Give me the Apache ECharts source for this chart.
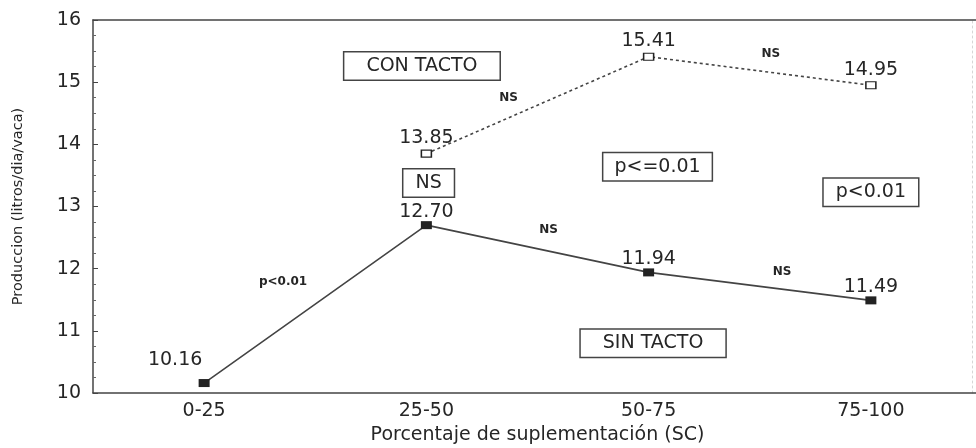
<!DOCTYPE html>
<html>
<head>
<meta charset="utf-8">
<script src="https://cdn.jsdelivr.net/npm/echarts@6/dist/echarts.min.js"></script>
<style>
  html, body { margin: 0; padding: 0; background: #fff; overflow: hidden; }
  #chart { width: 976px; height: 448px; }
</style>
</head>
<body>
<div id="chart"></div>
<script>
// Supplementation classes on the horizontal axis
const categories = ['0-25', '25-50', '50-75', '75-100'];
// Milk yield (litros/dia/vaca) per group
const sinTacto = [10.16, 12.70, 11.94, 11.49];
const conTacto = [null, 13.85, 15.41, 14.95];
// Framed notes: [text, x position in class units, y value]
const boxNotes = [
  ['CON TACTO', 0.98, 15.26],
  ['NS', 1.01, 13.38],
  ['p<=0.01', 2.04, 13.64],
  ['p<0.01', 3.0, 13.23],
  ['SIN TACTO', 2.02, 10.80]
];
// Small significance marks: [text, x position in class units, y value]
const smallNotes = [
  ['NS', 1.37, 14.75],
  ['NS', 2.55, 15.45],
  ['NS', 1.55, 12.62],
  ['NS', 2.60, 11.95],
  ['p<0.01', 0.355, 11.79]
];

const FONT = 'DejaVu Sans';
const INK = '#262626';
const LINE = '#444';
const boxPadX = [22, 12, 11, 12, 22];

const chart = echarts.init(document.getElementById('chart'), null, { renderer: 'canvas' });

const valueLabel = (dist, extra) => ({
  show: true,
  position: 'top',
  distance: dist,
  color: INK,
  fontFamily: FONT,
  fontSize: 19,
  formatter: p => (p.value == null ? '' : Number(p.value).toFixed(2)),
  ...(extra || {})
});

const sinData = sinTacto.map((v, i) => i === 0
  ? { value: v, label: { offset: [-29, -9] } }
  : v);

const option = {
  backgroundColor: '#fff',
  animation: false,
  textStyle: { fontFamily: FONT, color: INK },
  grid: { left: 93, top: 20, width: 889, height: 373, outerBoundsMode: 'none', containLabel: false },
  xAxis: [
    {
      type: 'category',
      data: categories,
      position: 'bottom',
      boundaryGap: true,
      name: 'Porcentaje de suplementación (SC)',
      nameLocation: 'middle',
      nameGap: 26,
      nameTextStyle: { fontFamily: FONT, fontSize: 19, color: INK },
      axisLine: { lineStyle: { color: LINE, width: 1.5 } },
      axisTick: { inside: true, alignWithLabel: true, length: 4, lineStyle: { color: LINE } },
      axisLabel: { margin: 9, fontFamily: FONT, fontSize: 19, color: INK },
      splitLine: { show: false }
    },
    {
      type: 'category',
      data: categories,
      position: 'top',
      boundaryGap: true,
      axisLine: { lineStyle: { color: LINE, width: 1.5 } },
      axisTick: { inside: true, alignWithLabel: true, length: 4, lineStyle: { color: LINE } },
      axisLabel: { show: false },
      splitLine: { show: false }
    },
    {
      type: 'value',
      min: -0.5,
      max: 3.5,
      show: false
    }
  ],
  yAxis: [
    {
      type: 'value',
      min: 10,
      max: 16,
      interval: 1,
      name: 'Produccion (litros/dia/vaca)',
      nameLocation: 'middle',
      nameGap: 67,
      nameTextStyle: { fontFamily: FONT, fontSize: 14.5, color: INK },
      axisLine: { show: true, onZero: false, lineStyle: { color: LINE, width: 1.5 } },
      axisTick: { show: true, inside: true, length: 5, lineStyle: { color: LINE } },
      minorTick: { show: true, splitNumber: 4, length: 3, lineStyle: { color: '#666' } },
      axisLabel: { margin: 12, fontFamily: FONT, fontSize: 19, color: INK },
      splitLine: { show: false }
    },
    {
      type: 'value',
      min: 10,
      max: 16,
      position: 'right',
      offset: -10,
      axisLine: { show: true, onZero: false, lineStyle: { color: '#d6d6d6', width: 1, type: [2, 3] } },
      axisTick: { show: false },
      axisLabel: { show: false },
      splitLine: { show: false }
    }
  ],
  series: [
    {
      name: 'SIN TACTO',
      type: 'line',
      xAxisIndex: 0,
      yAxisIndex: 0,
      data: sinData,
      symbol: 'rect',
      symbolSize: [11, 8],
      itemStyle: { color: '#222' },
      lineStyle: { color: LINE, width: 1.6 },
      label: valueLabel(0),
      z: 3
    },
    {
      name: 'CON TACTO',
      type: 'line',
      xAxisIndex: 0,
      yAxisIndex: 0,
      data: conTacto,
      connectNulls: false,
      symbol: 'rect',
      symbolSize: [10, 7],
      showSymbol: true,
      itemStyle: { color: '#fff', borderColor: '#222', borderWidth: 1.3 },
      lineStyle: { color: LINE, width: 1.6, type: [3, 3] },
      label: valueLabel(2),
      z: 3
    },
    {
      name: 'notas',
      type: 'scatter',
      xAxisIndex: 2,
      yAxisIndex: 0,
      symbolSize: 1,
      itemStyle: { color: 'rgba(0,0,0,0)', opacity: 1 },
      silent: true,
      data: boxNotes.map((n, i) => ({
        value: [n[1], n[2]],
        label: {
          show: true,
          position: 'inside',
          formatter: n[0],
          fontFamily: FONT,
          fontSize: 19,
          color: INK,
          backgroundColor: '#fff',
          borderColor: LINE,
          borderWidth: 1.5,
          padding: [4, boxPadX[i]]
        }
      })),
      z: 5
    },
    {
      name: 'marcas',
      type: 'scatter',
      xAxisIndex: 2,
      yAxisIndex: 0,
      symbolSize: 1,
      itemStyle: { color: 'rgba(0,0,0,0)', opacity: 1 },
      silent: true,
      data: smallNotes.map(n => ({
        value: [n[1], n[2]],
        label: {
          show: true,
          position: 'inside',
          formatter: n[0],
          fontFamily: FONT,
          fontSize: 12,
          fontWeight: 'bold',
          color: INK
        }
      })),
      z: 5
    }
  ]
};

chart.setOption(option);
</script>
</body>
</html>
